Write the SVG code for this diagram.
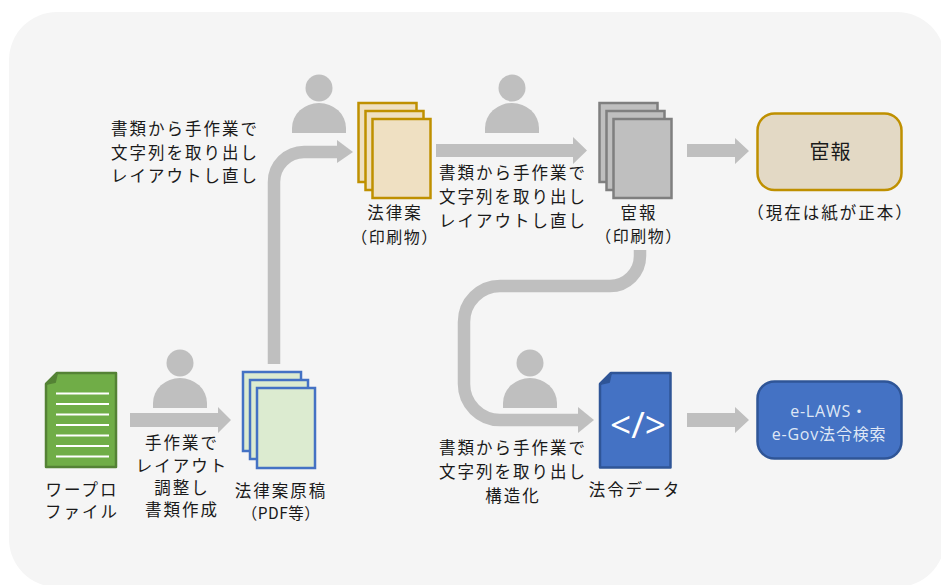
<svg xmlns="http://www.w3.org/2000/svg" width="941" height="585" viewBox="0 0 941 585">
<style>
text{font-family:"Noto Sans CJK JP","Noto Sans",sans-serif;font-size:16.500px;fill:#1a1a1a;text-anchor:middle;letter-spacing:2px}
.w{fill:#dfe7f5;font-size:16px;letter-spacing:.8px;font-family:"Open Sans","Noto Sans CJK JP",sans-serif}
.m{font-size:16px;letter-spacing:1.500px}
.arrow{fill:#bfbfbf}
.flow{fill:none;stroke:#bfbfbf;stroke-width:12.500}
.person{fill:#bfbfbf}
.g{fill:#dcebd0;stroke:#4472c4;stroke-width:2.500}
.y{fill:#efe0c2;stroke:#bf9000;stroke-width:2.500}
.k{fill:#bfbfbf;stroke:#7f7f7f;stroke-width:2.500}
</style>
<defs>
<g id="p"><circle cx="0" cy="0" r="13.500"/><path d="M-27 45V40A27 25 0 0 1 27 40V45Z"/></g>
</defs>
<rect id="background" x="9" y="12" width="936" height="575" rx="48" fill="#f5f5f5"/>
<g id="connectors">
<path class="arrow" d="M130 413H218V407L231 420L218 433V427H130Z"/>
<path class="flow" d="M274 364V182A30 30 0 0 1 304 152H340"/>
<path class="arrow" d="M337 140L353 152L337 163Z"/>
<path class="arrow" d="M436 144H573V137L587 150.500L573 164V157H436Z"/>
<path class="arrow" d="M687 144H735V138L749 151L735 164V157H687Z"/>
<path class="flow" d="M640 250V256A30 30 0 0 1 610 286H500A36 36 0 0 0 464 322V384A36 36 0 0 0 500 420H582"/>
<path class="arrow" d="M578 407L594 420L578 433Z"/>
<path class="arrow" d="M687 413H735V407L749 420L735 433V427H687Z"/>
</g>
<g id="person1" class="person"><use href="#p" x="180" y="363"/></g>
<g id="person2" class="person"><use href="#p" x="319" y="88"/></g>
<g id="person3" class="person"><use href="#p" x="512" y="88"/></g>
<g id="person4" class="person"><use href="#p" x="530" y="363"/></g>
<g id="wordfile">
<path d="M57 373H116V467H46V384Z" fill="#70ad47" stroke="#548235" stroke-width="2.500" stroke-linejoin="round"/>
<path d="M46 384L57 373L55 382Z" fill="#548235" stroke="#548235" stroke-width="2" stroke-linejoin="round"/>
<path d="M56 393.500H109M56 404H109M56 414.500H109M56 425H109M56 435.500H109M56 446H109M56 456.500H109" stroke="#fff" stroke-width="2" fill="none"/>
<text x="82" y="496">ワープロ</text>
<text x="82" y="518">ファイル</text>
</g>
<text x="182" y="449">手作業で</text>
<text x="182" y="471.500">レイアウト</text>
<text x="182" y="494">調整し</text>
<text x="182" y="516">書類作成</text>
<g id="draft">
<rect class="g" x="243" y="372" width="58" height="79"/>
<rect class="g" x="250" y="380" width="58" height="79"/>
<rect class="g" x="257" y="388" width="58" height="80"/>
<text x="281" y="497">法律案原稿</text>
<text x="281" y="519" style="font-size:15.500px;letter-spacing:.5px">（PDF等）</text>
</g>
<text x="185" y="135">書類から手作業で</text>
<text x="185" y="159">文字列を取り出し</text>
<text x="185" y="182">レイアウトし直し</text>
<g id="bill">
<rect class="y" x="358.500" y="103" width="58" height="79"/>
<rect class="y" x="365.500" y="111" width="58" height="79"/>
<rect class="y" x="372.500" y="119" width="58" height="79"/>
<text x="395" y="219">法律案</text>
<text class="m" x="395" y="243">（印刷物）</text>
</g>
<text x="513" y="179">書類から手作業で</text>
<text x="513" y="203">文字列を取り出し</text>
<text x="513" y="227">レイアウトし直し</text>
<g id="gazette-print">
<rect class="k" x="599.500" y="103" width="58" height="79"/>
<rect class="k" x="606.500" y="111" width="58" height="79"/>
<rect class="k" x="613.500" y="119" width="58" height="79"/>
<text x="639" y="219">宦報</text>
<text class="m" x="639" y="242">（印刷物）</text>
</g>
<g id="gazette">
<rect x="757.500" y="113.500" width="144" height="76.500" rx="17" fill="#e3d9c5" stroke="#bf9000" stroke-width="2.500"/>
<text x="830.500" y="158.500" style="font-size:20px;letter-spacing:1px">宦報</text>
<text x="830.500" y="219">（現在は紙が正本）</text>
</g>
<text x="513" y="454">書類から手作業で</text>
<text x="513" y="478">文字列を取り出し</text>
<text x="513" y="502">構造化</text>
<g id="lawdata">
<path d="M611 373H670.500V467.500H600V384Z" fill="#4472c4" stroke="#2f5597" stroke-width="2.500" stroke-linejoin="round"/>
<path d="M600 384L611 373L609 382Z" fill="#2f5597" stroke="#2f5597" stroke-width="2" stroke-linejoin="round"/>
<text x="638" y="438" style="font-family:'Open Sans',sans-serif;font-size:37px;fill:#fff;letter-spacing:0">&lt;/&gt;</text>
<text x="635" y="496">法令データ</text>
</g>
<g id="elaws">
<rect x="757.500" y="381.500" width="144" height="77" rx="17" fill="#4472c4" stroke="#2f5597" stroke-width="2.500"/>
<text class="w" x="829" y="417">e-LAWS・</text>
<text class="w" x="829" y="440">e-Gov法令検索</text>
</g>
</svg>
